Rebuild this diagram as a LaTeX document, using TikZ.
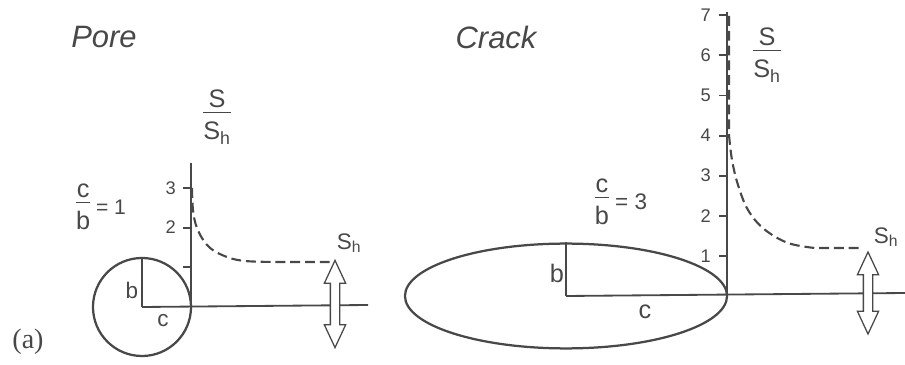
\documentclass[tikz,border=0pt]{standalone}
\usepackage{fontspec}
\setmainfont{Liberation Sans}
\newfontfamily\timesfont{Liberation Serif}
\usetikzlibrary{shapes.geometric,shapes.arrows}
\definecolor{ink}{RGB}{72,72,72}
\setlength{\arrayrulewidth}{1.1pt}
\newcommand{\fracsf}[2]{\begin{tabular}{@{}c@{}}#1\\[-3pt]\hline\rule{0pt}{1.05em}#2\end{tabular}}
\newcommand{\Sh}{S\textsubscript{h}}

\begin{document}
\begin{tikzpicture}[x=0.025cm,y=-0.025cm,line width=1.3pt,color=ink,
   ttl/.style={font=\fontsize{22}{24}\selectfont\itshape},
   lbl/.style={font=\fontsize{16}{18}\selectfont,inner sep=1pt},
   big/.style={font=\fontsize{18}{20}\selectfont,inner sep=1pt},
   tk/.style={font=\fontsize{13}{15}\selectfont,anchor=east,inner sep=1pt},
   crv/.style={dash pattern=on 7pt off 3.5pt,line width=1.5pt},
   pushpull/.style={double arrow,draw,fill=white,rotate=90,line width=0.9pt,
      minimum width=0.5cm,inner sep=0.1cm,
      double arrow head extend=0.15cm,double arrow tip angle=50}]
\useasboundingbox (0,0) rectangle (905,365);
%% ---- pore ----
\node[ttl] (pore) at (104,37) {Pore};
\node[big] (pratio) at (101,208) {\fracsf{c}{b}\fontsize{15}{17}\selectfont\ = 1};
\node[big] (pss) at (217,118) {\fracsf{S}{\Sh}};
\node[circle,draw,line width=1.6pt,minimum size=2.45cm,inner sep=0pt] (pc) at (142,307) {};
\coordinate (pO) at (191,307);
\coordinate (pT) at (191,163);
\coordinate (pE) at (368,305);
\coordinate (pS) at (330,262);   % far-field level
\draw (pO) -- (pT);
\draw (pc.center) -- (pE);
\draw (pc.center) -- (pc.north);
\foreach \v in {1,2,3}
  \draw (191,307-39.7*\v) -- ++(-8,0);
\foreach \v in {2,3}
  \node[tk] (pt\v) at (178,307-39.7*\v) {\v};
\node[lbl] (pb) at (132,290) {b};
\node[lbl] (pcl) at (163,321) {c};
\draw[crv] plot[smooth,tension=0.6] coordinates {(192,188) (193,210) (197,228) (207,245)
   (222,255) (245,261) (290,262)} -- (pS);
\node[lbl] (psh) at (349,243) {\Sh};
\node[pushpull,minimum height=2.18cm] (parr) at (335,304) {};
\node[font=\timesfont\fontsize{20}{22}\selectfont] (tag) at (28,342) {(a)};
%% ---- crack ----
\node[ttl] (crack) at (496,37) {Crack};
\node[big] (cratio) at (621,203) {\fracsf{c}{b}\fontsize{16}{18}\selectfont\ = 3};
\node[big] (css) at (767,56) {\fracsf{S}{\Sh}};
\node[ellipse,draw,line width=1.6pt,minimum width=8.05cm,minimum height=2.62cm,inner sep=0pt] (ce) at (566,296) {};
\coordinate (cO) at (727,296);
\coordinate (cT) at (727,12);
\coordinate (cE) at (905,293);
\coordinate (cS) at (863,248);   % far-field level
\draw (cO) -- (cT);
\draw (ce.center) -- (cE);
\draw (ce.center) -- (ce.north);
\foreach \v in {1,...,7} {
  \draw (727,296-40.1*\v) -- ++(-8,0);
  \node[tk] (ct\v) at (713,296-40.1*\v) {\v};
}
\node[big] (cb) at (557,273) {b};
\node[big] (ccl) at (645,312) {c};
\draw[crv] (729,16) -- (729,135) plot[smooth,tension=0.6] coordinates {(729,135) (732,160)
   (738,185) (748,210) (764,229) (788,243) (815,248)} -- (cS);
\node[lbl] (csh) at (886,237) {\Sh};
\node[pushpull,minimum height=2.05cm] (carr) at (868,293) {};
\end{tikzpicture}
\end{document}
